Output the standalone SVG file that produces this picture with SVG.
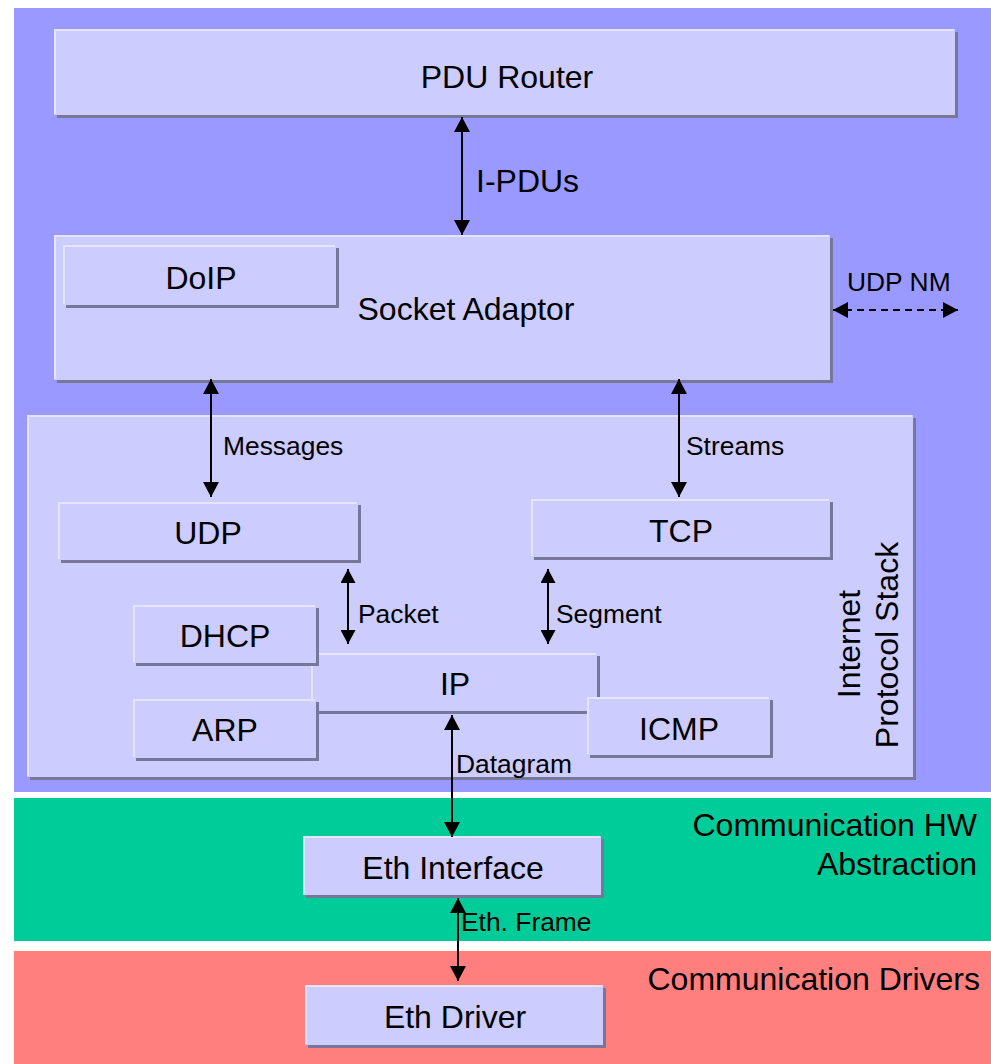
<svg xmlns="http://www.w3.org/2000/svg" width="991" height="1064" viewBox="0 0 991 1064">
<style>
.sh{fill:#777799}
.bx{fill:#CCCCFF}
.hl{fill:none;stroke:#E4E4FF;stroke-width:2}
.t{font-family:"Liberation Sans",Arial,sans-serif;font-size:32px;fill:#000}
.l{font-family:"Liberation Sans",Arial,sans-serif;font-size:26.4px;fill:#000}
.c{stroke:#000;stroke-width:2;fill:none}
.d{stroke:#000;stroke-width:2;fill:none;stroke-dasharray:7 5}
</style>
<defs>
<marker id="ah" markerUnits="userSpaceOnUse" markerWidth="16" markerHeight="16" viewBox="0 0 15 16" refX="15" refY="8" orient="auto-start-reverse">
<path d="M0,0 L15,8 L0,16 z" fill="#000"/>
</marker>
<marker id="ahs" markerUnits="userSpaceOnUse" markerWidth="15" markerHeight="15" viewBox="0 0 14 15" refX="14" refY="7.5" orient="auto-start-reverse">
<path d="M0,0 L14,7.5 L0,15 z" fill="#000"/>
</marker>
</defs>

<g id="layer-services">
<rect x="14" y="8" width="977" height="784" fill="#9999FF"/>
</g>
<g id="layer-hw-abstraction">
<rect x="14" y="798" width="977" height="143" fill="#00CC99"/>
<text class="t" x="977" y="836" text-anchor="end">Communication HW</text>
<text class="t" x="977" y="875" text-anchor="end">Abstraction</text>
</g>
<g id="layer-drivers">
<rect x="14" y="951" width="977" height="113" fill="#FF7F7F"/>
<text class="t" x="980" y="990" text-anchor="end">Communication Drivers</text>
</g>

<g id="pdu-router">
<rect class="sh" x="57" y="32" width="901" height="86"/>
<rect class="bx" x="54" y="29" width="901" height="86"/>
<path class="hl" d="M55,114 V30 H954"/>
<text class="t" x="507" y="88" text-anchor="middle">PDU Router</text>
</g>

<g id="socket-adaptor">
<rect class="sh" x="57" y="238" width="776" height="145"/>
<rect class="bx" x="54" y="235" width="776" height="145"/>
<path class="hl" d="M55,379 V236 H829"/>
<text class="t" x="466" y="320" text-anchor="middle">Socket Adaptor</text>
</g>

<g id="doip">
<rect class="sh" x="66" y="248" width="273" height="60"/>
<rect class="bx" x="63" y="245" width="273" height="60"/>
<path class="hl" d="M64,304 V246 H335"/>
<text class="t" x="201" y="289" text-anchor="middle">DoIP</text>
</g>

<g id="internet-protocol-stack">
<rect class="sh" x="30" y="418" width="886" height="362"/>
<rect class="bx" x="27" y="415" width="886" height="362"/>
<path class="hl" d="M28,776 V416 H912"/>
<text class="t" transform="translate(860,644) rotate(-90)" text-anchor="middle">Internet</text>
<text class="t" transform="translate(898,645) rotate(-90)" text-anchor="middle">Protocol Stack</text>
</g>

<g id="udp">
<rect class="sh" x="61" y="505" width="300" height="58"/>
<rect class="bx" x="58" y="502" width="300" height="58"/>
<path class="hl" d="M59,559 V503 H357"/>
<text class="t" x="208" y="544" text-anchor="middle">UDP</text>
</g>

<g id="tcp">
<rect class="sh" x="534" y="502" width="299" height="58"/>
<rect class="bx" x="531" y="499" width="299" height="58"/>
<path class="hl" d="M532,556 V500 H829"/>
<text class="t" x="681" y="542" text-anchor="middle">TCP</text>
</g>

<g id="ip">
<rect class="sh" x="314" y="656" width="286" height="58"/>
<rect class="bx" x="311" y="653" width="286" height="58"/>
<path class="hl" d="M312,710 V654 H596"/>
<text class="t" x="455" y="695" text-anchor="middle">IP</text>
</g>

<g id="dhcp">
<rect class="sh" x="136" y="608" width="183" height="58"/>
<rect class="bx" x="133" y="605" width="183" height="58"/>
<path class="hl" d="M134,662 V606 H315"/>
<text class="t" x="225" y="647" text-anchor="middle">DHCP</text>
</g>

<g id="arp">
<rect class="sh" x="136" y="702" width="183" height="59"/>
<rect class="bx" x="133" y="699" width="183" height="59"/>
<path class="hl" d="M134,757 V700 H315"/>
<text class="t" x="225" y="741" text-anchor="middle">ARP</text>
</g>

<g id="icmp">
<rect class="sh" x="590" y="700" width="183" height="58"/>
<rect class="bx" x="587" y="697" width="183" height="58"/>
<path class="hl" d="M588,754 V698 H769"/>
<text class="t" x="679" y="740" text-anchor="middle">ICMP</text>
</g>

<g id="eth-interface">
<rect class="sh" x="306" y="839" width="298" height="59"/>
<rect class="bx" x="303" y="836" width="298" height="59"/>
<path class="hl" d="M304,894 V837 H600"/>
<text class="t" x="453" y="879" text-anchor="middle">Eth Interface</text>
</g>

<g id="eth-driver">
<rect class="sh" x="308" y="988" width="298" height="60"/>
<rect class="bx" x="305" y="985" width="298" height="60"/>
<path class="hl" d="M306,1044 V986 H602"/>
<text class="t" x="455" y="1028" text-anchor="middle">Eth Driver</text>
</g>

<g id="connectors">
<line class="c" x1="462" y1="117" x2="462" y2="235" marker-start="url(#ah)" marker-end="url(#ah)"/>
<text class="t" x="476" y="192">I-PDUs</text>
<line class="d" x1="833" y1="310" x2="958" y2="310" marker-start="url(#ah)" marker-end="url(#ah)"/>
<text class="l" x="847" y="291">UDP NM</text>
<line class="c" x1="211" y1="379" x2="211" y2="497" marker-start="url(#ah)" marker-end="url(#ah)"/>
<text class="l" x="223" y="455">Messages</text>
<line class="c" x1="679" y1="379" x2="679" y2="497" marker-start="url(#ah)" marker-end="url(#ah)"/>
<text class="l" x="686" y="455">Streams</text>
<line class="c" x1="348" y1="569" x2="348" y2="644" marker-start="url(#ahs)" marker-end="url(#ahs)"/>
<text class="l" x="358" y="623">Packet</text>
<line class="c" x1="548" y1="569" x2="548" y2="644" marker-start="url(#ahs)" marker-end="url(#ahs)"/>
<text class="l" x="556" y="623">Segment</text>
<line class="c" x1="452" y1="715" x2="452" y2="837" marker-start="url(#ah)" marker-end="url(#ah)"/>
<text class="l" x="456" y="773">Datagram</text>
<line class="c" x1="458" y1="898" x2="458" y2="981" marker-start="url(#ah)" marker-end="url(#ah)"/>
<text class="l" x="461" y="931">Eth. Frame</text>
</g>
</svg>
